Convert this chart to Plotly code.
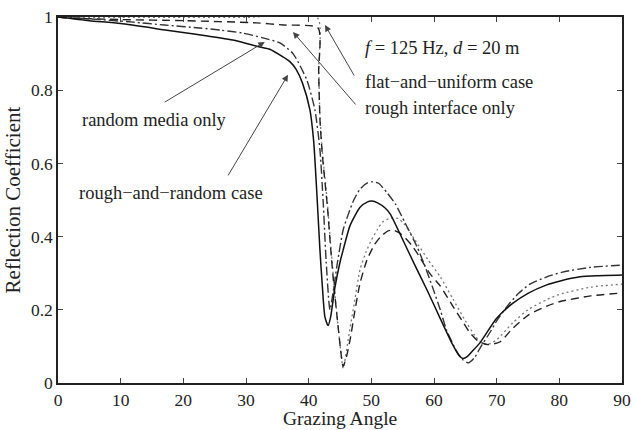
import plotly.graph_objects as go

# ---- data ----
solid_x = [0, 5, 10, 17.4, 22, 27.9, 32.2, 33.8, 35.9, 37, 38, 39, 40.2, 40.8, 41.3, 41.8, 42.2, 42.6, 43.1,
           43.5, 44.2, 45, 45.5, 46.6, 48.2, 49.4, 50.1, 51, 52.2, 53, 55, 57, 59, 61, 63, 64, 64.6, 65.3,
           66, 67.3, 70, 72.6, 75, 78, 80, 83.3, 86, 90]
solid_y = [1, 0.99, 0.982, 0.964, 0.953, 0.937, 0.918, 0.912, 0.891, 0.878, 0.857, 0.82, 0.746, 0.66, 0.52,
           0.363, 0.26, 0.18, 0.157, 0.18, 0.262, 0.33, 0.363, 0.43, 0.48, 0.495, 0.497, 0.492, 0.478, 0.462,
           0.392, 0.32, 0.25, 0.176, 0.104, 0.075, 0.067, 0.072, 0.085, 0.109, 0.177, 0.218, 0.245, 0.268,
           0.278, 0.29, 0.293, 0.295]

dashdot_x = [0, 5, 12, 17, 22.6, 26, 29.5, 32.7, 35.4, 37.5, 39.7, 41, 41.8, 42.3, 42.8, 43.4, 44, 44.6,
             45.5, 46.3, 47.2, 48.2, 49.3, 50.2, 51.2, 52.5, 53.8, 55.4, 57.3, 58.6, 59.7, 61, 62, 63.5,
             64.5, 65.5, 66.5, 67.5, 69, 70, 71.6, 73.5, 75.3, 78, 80.5, 85, 90]
dashdot_y = [1, 0.995, 0.986, 0.978, 0.97, 0.964, 0.956, 0.943, 0.929, 0.9, 0.828, 0.746, 0.637, 0.5, 0.33,
             0.2, 0.26, 0.33, 0.418, 0.46, 0.5, 0.53, 0.546, 0.55, 0.545, 0.52, 0.49, 0.437, 0.372, 0.317,
             0.265, 0.2, 0.145, 0.09, 0.065, 0.055, 0.07, 0.1, 0.14, 0.17, 0.208, 0.245, 0.27, 0.29, 0.303,
             0.316, 0.322]

dashed_x = [0, 2, 10, 20, 31.7, 36, 41.5, 41.6, 41.8, 42.2, 43, 43.5, 44, 44.6, 45.1, 45.5, 46, 46.6, 47.4,
            48.2, 49.3, 50.5, 51.5, 52.6, 53.5, 54.5, 55.5, 56.5, 57.5, 59.3, 61, 63, 64.5, 65.7, 67, 68.5,
            70.5, 72.6, 75, 78, 80, 85, 90]
dashed_y = [1, 0.997, 0.993, 0.99, 0.984, 0.978, 0.97, 0.85, 0.72, 0.62, 0.48, 0.37, 0.27, 0.17, 0.09, 0.045,
            0.07, 0.117, 0.2, 0.273, 0.336, 0.378, 0.4, 0.415, 0.418, 0.41, 0.395, 0.375, 0.35, 0.3, 0.265,
            0.21, 0.17, 0.138, 0.115, 0.105, 0.112, 0.15, 0.185, 0.21, 0.222, 0.238, 0.246]

dotted_x = [0, 10, 20, 30, 41.4, 41.6, 41.8, 42.2, 43, 43.5, 44, 44.6, 45.1, 45.5, 46.5, 47.3, 48.2, 49.2,
            50, 51, 51.8, 53, 54.2, 55.2, 57, 59, 61, 63, 65, 66.5, 67.5, 68.5, 70, 72.6, 75, 78, 80, 85, 90]
dotted_y = [0.999, 0.999, 0.999, 0.999, 0.998, 0.86, 0.73, 0.63, 0.49, 0.38, 0.28, 0.17, 0.09, 0.04, 0.14,
            0.22, 0.31, 0.36, 0.39, 0.42, 0.44, 0.45, 0.45, 0.435, 0.39, 0.338, 0.29, 0.23, 0.17, 0.13, 0.11,
            0.105, 0.118, 0.165, 0.2, 0.228, 0.242, 0.262, 0.27]

x_ticks = [0, 10, 20, 30, 40, 50, 60, 70, 80, 90]
y_ticks = [0, 0.2, 0.4, 0.6, 0.8, 1]
y_tick_labels = ["0", "0.2", "0.4", "0.6", "0.8", "1"]
x_title = "Grazing Angle"
y_title = "Reflection Coefficient"

FONT = "Liberation Serif, Times New Roman, serif"

fig = go.Figure()
fig.add_trace(go.Scatter(x=dotted_x, y=dotted_y, mode="lines",
                         line=dict(color="#777777", width=1.3, dash="2px,3px", shape="spline", smoothing=0.6)))
fig.add_trace(go.Scatter(x=dashed_x, y=dashed_y, mode="lines",
                         line=dict(color="#222222", width=1.4, dash="8px,5px", shape="spline", smoothing=0.6)))
fig.add_trace(go.Scatter(x=dashdot_x, y=dashdot_y, mode="lines",
                         line=dict(color="#333333", width=1.4, dash="9px,3px,2px,3px", shape="spline", smoothing=0.6)))
fig.add_trace(go.Scatter(x=solid_x, y=solid_y, mode="lines",
                         line=dict(color="#111111", width=1.5, shape="spline", smoothing=0.6)))

ann_font = dict(family=FONT, size=18.5, color="#222222")
annotations = [
    dict(x=48.7, y=0.915, text="<i>f</i> = 125 Hz, <i>d</i> = 20 m", xanchor="left"),
    dict(x=48.7, y=0.822, text="flat\u2212and\u2212uniform case", xanchor="left"),
    dict(x=48.7, y=0.751, text="rough interface only", xanchor="left"),
    dict(x=3.5, y=0.719, text="random media only", xanchor="left"),
    dict(x=3.0, y=0.519, text="rough\u2212and\u2212random case", xanchor="left"),
]
for a in annotations:
    fig.add_annotation(xref="x", yref="y", showarrow=False, font=ann_font, yanchor="middle", **a)

arrows = [
    (42.6, 0.978, 47.4, 0.836),
    (37.5, 0.959, 47.7, 0.757),
    (33.0, 0.932, 16.8, 0.765),
    (36.7, 0.842, 27.0, 0.563),
]
for (tx, ty, sx, sy) in arrows:
    fig.add_annotation(x=tx, y=ty, ax=sx, ay=sy, xref="x", yref="y", axref="x", ayref="y",
                       text="", showarrow=True, arrowhead=2, arrowsize=1.3, arrowwidth=1,
                       arrowcolor="#444444")

# axis titles as paper annotations for exact placement
fig.add_annotation(xref="paper", yref="paper", x=0.5, y=-0.097, text=x_title, showarrow=False,
                   font=dict(family=FONT, size=19.5, color="#222222"), xanchor="center", yanchor="middle")
fig.add_annotation(xref="paper", yref="paper", x=-0.079, y=0.5, text=y_title, showarrow=False, textangle=-90,
                   font=dict(family=FONT, size=21, color="#222222"), xanchor="center", yanchor="middle")

fig.update_layout(
    width=633, height=430,
    margin=dict(l=58, r=11, t=17, b=47, autoexpand=False),
    paper_bgcolor="white", plot_bgcolor="white",
    showlegend=False,
    font=dict(family=FONT, size=18, color="#222222"),
)
fig.update_xaxes(range=[0, 90], tickvals=x_ticks, ticks="inside", ticklen=5, tickwidth=1,
                 showline=True, linecolor="#222222", linewidth=1.5, mirror="ticks", showgrid=False,
                 zeroline=False, tickfont=dict(size=17.5), automargin=False)
fig.update_yaxes(range=[0, 1], tickvals=y_ticks, ticktext=y_tick_labels, ticks="inside", ticklen=5, tickwidth=1,
                 showline=True, linecolor="#222222", linewidth=1.5, mirror="ticks", showgrid=False,
                 zeroline=False, tickfont=dict(size=17.5), automargin=False)

fig.write_html("out.html")
